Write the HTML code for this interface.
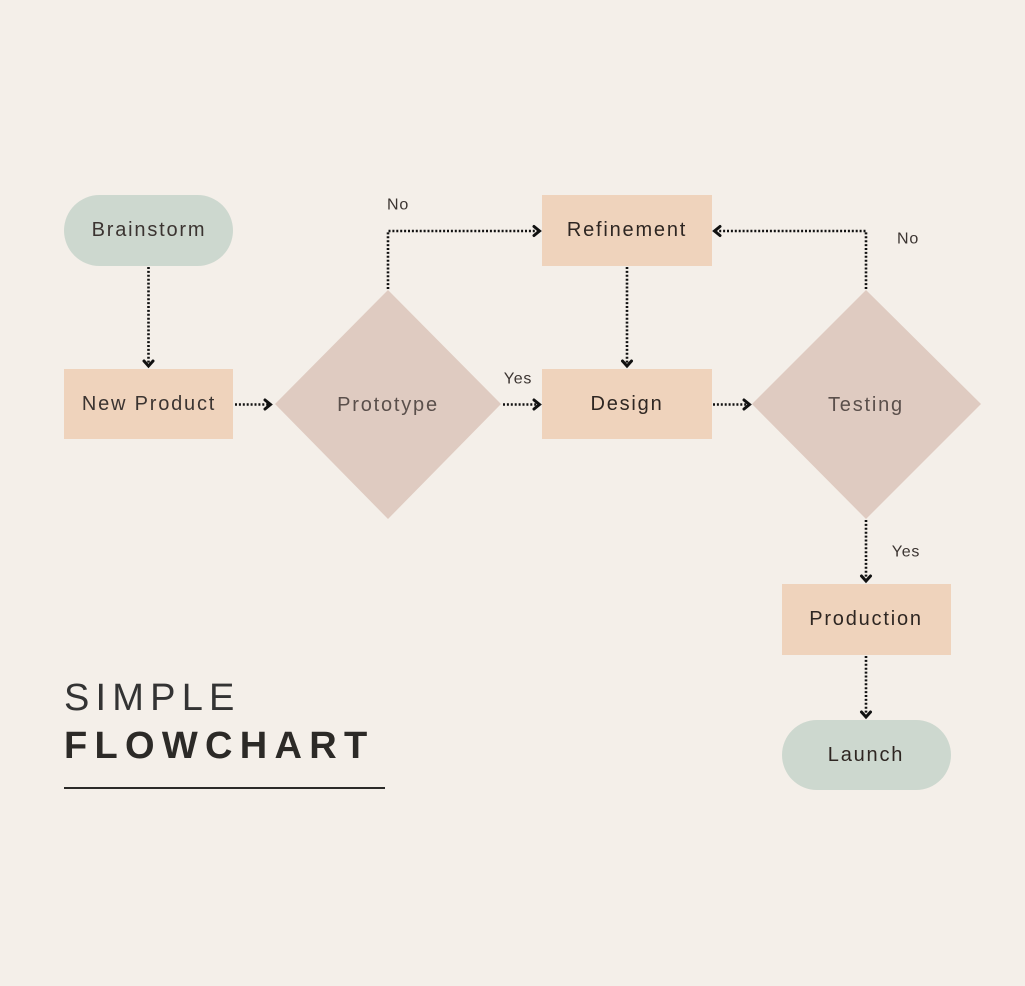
<!DOCTYPE html>
<html><head><meta charset="utf-8"><style>
html,body{margin:0;padding:0;background:#f4efe9;}
svg{display:block;}
.t{font-family:"Liberation Sans",sans-serif;font-size:20px;letter-spacing:1.8px;fill:#3b3431;text-anchor:middle;dominant-baseline:central;}
.l{font-family:"Liberation Sans",sans-serif;font-size:16px;letter-spacing:0.8px;fill:#3b3431;text-anchor:middle;dominant-baseline:central;}
.d{stroke:#111;stroke-width:2.6;stroke-dasharray:2 1.9;fill:none;}
.a{stroke:#111;stroke-width:3;fill:none;stroke-linecap:round;stroke-linejoin:miter;}
</style></head><body>
<svg width="1025" height="986" viewBox="0 0 1025 986" xmlns="http://www.w3.org/2000/svg">
<rect width="1025" height="986" fill="#f4efe9"/>
<!-- nodes -->
<rect x="64" y="195" width="169" height="71" rx="35.5" fill="#cdd8cf"/>
<rect x="64" y="369" width="169" height="70" fill="#efd3bc"/>
<polygon points="388,290 501,404 388,519 275,404" fill="#dfcbc1"/>
<rect x="542" y="195" width="170" height="71" fill="#efd3bc"/>
<rect x="542" y="369" width="170" height="70" fill="#efd3bc"/>
<polygon points="866,290 981,404 866,519 752,404" fill="#dfcbc1"/>
<rect x="782" y="584" width="169" height="71" fill="#efd3bc"/>
<rect x="782" y="720" width="169" height="70" rx="35" fill="#cdd8cf"/>
<!-- text -->
<text class="t" x="149" y="230">Brainstorm</text>
<text class="t" x="149" y="404">New Product</text>
<text class="t" x="388" y="405" style="fill:#5a4f4b">Prototype</text>
<text class="t" x="627" y="230" style="fill:#2e2622">Refinement</text>
<text class="t" x="627" y="404" style="fill:#2e2622">Design</text>
<text class="t" x="866" y="405" style="fill:#5a4f4b">Testing</text>
<text class="t" x="866" y="619" style="fill:#2e2622">Production</text>
<text class="t" x="866" y="755" style="fill:#2e2622">Launch</text>
<text class="l" x="398" y="205">No</text>
<text class="l" x="518" y="379">Yes</text>
<text class="l" x="908" y="239">No</text>
<text class="l" x="906" y="552">Yes</text>
<!-- connectors -->
<path class="d" d="M148.5 267 V365"/>
<path class="a" d="M144 361 L148.5 366 L153 361"/>
<path class="d" d="M235 404.5 H269"/>
<path class="a" d="M265 400 L270.5 404.5 L265 409"/>
<path class="d" d="M388 289 V231 H538"/>
<path class="a" d="M534 226.5 L539.5 231 L534 235.5"/>
<path class="d" d="M503 404.5 H538"/>
<path class="a" d="M534 400 L539.5 404.5 L534 409"/>
<path class="d" d="M627 267 V365"/>
<path class="a" d="M622.5 361 L627 366 L631.5 361"/>
<path class="d" d="M713 404.5 H748"/>
<path class="a" d="M744 400 L749.5 404.5 L744 409"/>
<path class="d" d="M866 289 V231 H716"/>
<path class="a" d="M720 226.5 L714.5 231 L720 235.5"/>
<path class="d" d="M866 520 V580"/>
<path class="a" d="M861.5 576 L866 581 L870.5 576"/>
<path class="d" d="M866 656 V716"/>
<path class="a" d="M861.5 712 L866 717 L870.5 712"/>
<!-- title -->
<text x="64" y="710" style="font-family:'Liberation Sans',sans-serif;font-size:38px;letter-spacing:6.2px;fill:#333;">SIMPLE</text>
<text x="64" y="758" style="font-family:'Liberation Sans',sans-serif;font-size:38px;font-weight:bold;letter-spacing:7.3px;fill:#2c2a27;">FLOWCHART</text>
<rect x="64" y="787" width="321" height="2" fill="#2b2a28"/>
</svg>
</body></html>
